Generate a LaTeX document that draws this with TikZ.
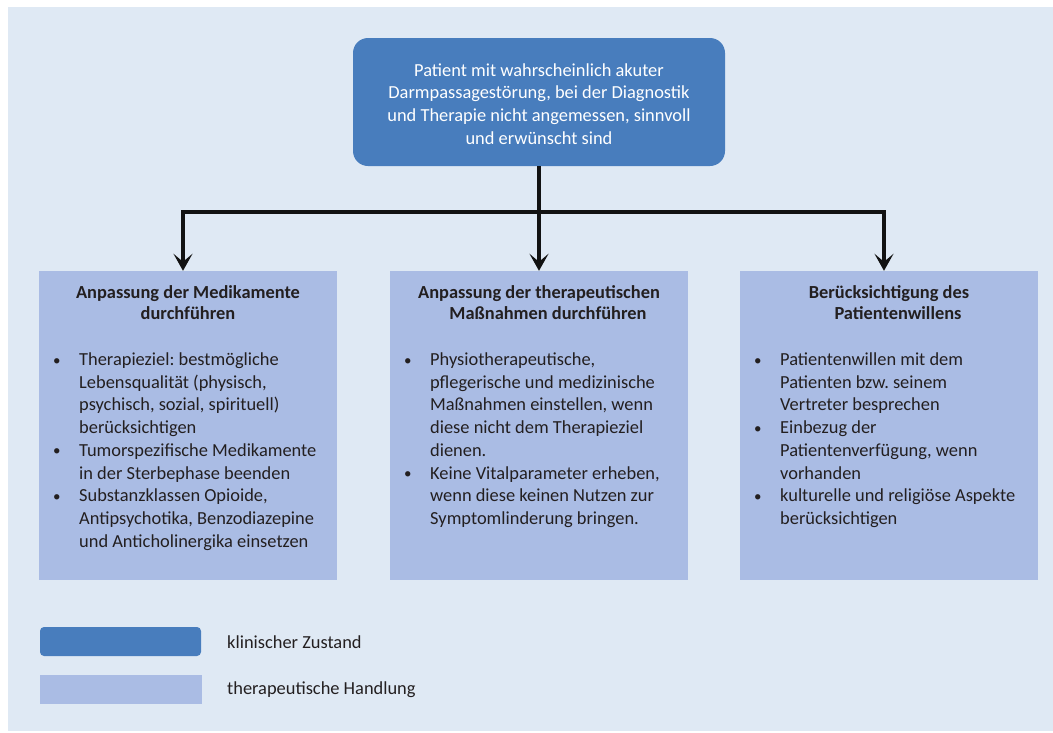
\documentclass[tikz,border=0pt]{standalone}
\usepackage{fontspec}
\setmainfont{Carlito}
\frenchspacing
\usetikzlibrary{arrows.meta}
\definecolor{bgc}{HTML}{DFE9F4}
\definecolor{darkbox}{HTML}{487DBD}
\definecolor{lightbox}{HTML}{AABCE4}
\definecolor{txt}{HTML}{231F20}
\newcommand{\bul}{\raisebox{0.5pt}{\fontsize{15}{15}\selectfont\textbullet}}
\newenvironment{blist}{\begin{tabular}[t]{@{}p{26pt}@{}l@{}}}{\end{tabular}}
\tikzset{
  basefont/.style={font=\fontsize{18.4}{22.7}\selectfont\frenchspacing},
  statebox/.style={basefont, fill=darkbox, draw=none, rounded corners=15pt, text=white, align=center, inner sep=0pt},
  statetext/.style={basefont, text=white, align=center, inner sep=0pt},
  actbox/.style={fill=lightbox, draw=none, inner sep=0pt, minimum width=298, minimum height=309},
  titletext/.style={font=\fontsize{18.4}{21.3}\selectfont\bfseries, text=txt, align=center, inner sep=0pt},
  listtext/.style={basefont, text=txt, inner sep=0pt, anchor=north west},
  legtext/.style={basefont, text=txt, anchor=west, inner sep=0pt},
  conn/.style={line width=3.5pt, draw=black!93, line join=miter},
  arr/.style={conn, -{Stealth[length=17pt,width=19pt,inset=8pt]}}
}
\begin{document}
\begin{tikzpicture}[x=1pt,y=-1pt]
\useasboundingbox (0,0) rectangle (1053,732);
\fill[white] (0,0) rectangle (1053,732);
\fill[bgc] (8,7) rectangle (1053,731);

\node[statebox, minimum width=372, minimum height=128] (top) at (539,102) {};
\node[statetext] (toptext) at ([yshift=-2pt]top.center)
  {Patient mit wahrscheinlich akuter\\Darmpassagestörung, bei der Diagnostik\\und Therapie nicht angemessen, sinnvoll\\und erwünscht sind};

\node[actbox] (b1) at (188,425.5) {};
\node[actbox] (b2) at (539,425.5) {};
\node[actbox] (b3) at (889,425.5) {};

\node[titletext] (t1) at (188,302.5) {Anpassung der Medikamente\\durchführen};
\node[titletext] (t2) at (539,302.5) {Anpassung der therapeutischen\\\hspace*{18pt}Maßnahmen durchführen};
\node[titletext] (t3) at (889,302.5) {Berücksichtigung des\\\hspace*{18pt}Patientenwillens};

\node[listtext] (l1) at (53,349.5) {\begin{blist}
\bul & Therapieziel: bestmögliche\\
 & Lebensqualität (physisch,\\
 & psychisch, sozial, spirituell)\\
 & berücksichtigen\\
\bul & Tumorspezifische Medikamente\\
 & in der Sterbephase beenden\\
\bul & Substanzklassen Opioide,\\
 & Antipsychotika, Benzodiazepine\\
 & und Anticholinergika einsetzen
\end{blist}};

\node[listtext] (l2) at (404,349.5) {\begin{blist}
\bul & Physiotherapeutische,\\
 & pflegerische und medizinische\\
 & Maßnahmen einstellen, wenn\\
 & diese nicht dem Therapieziel\\
 & dienen.\\
\bul & Keine Vitalparameter erheben,\\
 & wenn diese keinen Nutzen zur\\
 & Symptomlinderung bringen.
\end{blist}};

\node[listtext] (l3) at (754,349.5) {\begin{blist}
\bul & Patientenwillen mit dem\\
 & Patienten bzw. seinem\\
 & Vertreter besprechen\\
\bul & Einbezug der\\
 & Patientenverfügung, wenn\\
 & vorhanden\\
\bul & kulturelle und religiöse Aspekte\\
 & berücksichtigen
\end{blist}};

\coordinate (j) at (539,212);
\draw[arr] (top.south) -- (b2.north);
\draw[arr] (j) -| ([xshift=-5pt]b1.north);
\draw[arr] (j) -| ([xshift=-5pt]b3.north);

\node[statebox, rounded corners=4pt, minimum width=161, minimum height=29] (k1) at (120.5,641.5) {};
\node[actbox, minimum width=162, minimum height=29] (k2) at (121,689.5) {};
\node[legtext] (k1t) at (227,642) {klinischer Zustand};
\node[legtext] (k2t) at (227,690) {therapeutische Handlung};
\end{tikzpicture}
\end{document}
